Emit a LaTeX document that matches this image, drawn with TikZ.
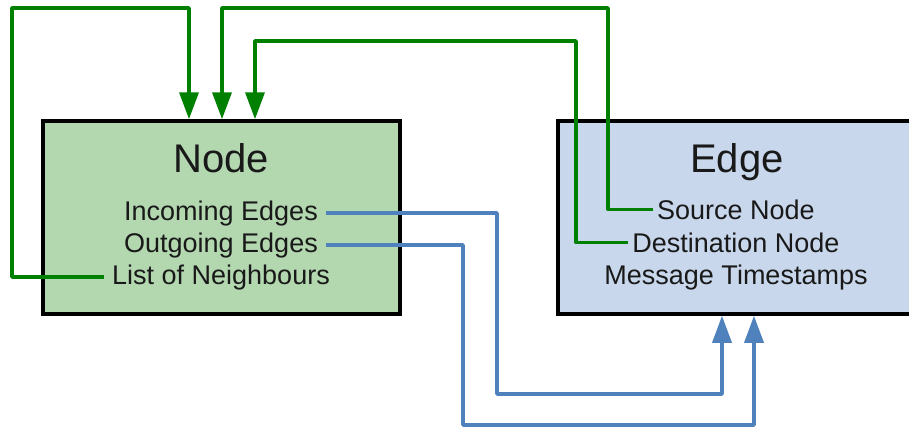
\documentclass[tikz,border=0pt]{standalone}
\usepackage{fontspec}
\setmainfont{Liberation Sans}
\usetikzlibrary{arrows.meta}
\definecolor{nodefill}{RGB}{179,216,176}
\definecolor{edgefill}{RGB}{200,215,235}
\definecolor{linkgreen}{RGB}{0,128,0}
\definecolor{linkblue}{RGB}{79,129,189}
\definecolor{txt}{RGB}{25,25,25}
\tikzset{
  classbox/.style={draw=black, line width=3.5pt, minimum width=357pt, minimum height=193pt, inner sep=0pt},
  title/.style={anchor=base, inner sep=0pt, font=\fontsize{40}{48}\selectfont, text=txt},
  field/.style={anchor=base, inner ysep=0pt, inner xsep=4pt, font=\fontsize{27}{32}\selectfont, text=txt},
  widefield/.style={field, inner xsep=8pt},
  greenlink/.style={draw=linkgreen, line width=3.5pt, line join=round, -{Triangle[length=27pt,width=19pt]}},
  bluelink/.style={draw=linkblue, line width=3.5pt, line join=round, -{Triangle[length=27pt,width=19pt]}},
}
\begin{document}
\begin{tikzpicture}[x=1pt, y=-1pt]
  \useasboundingbox (0,0) rectangle (909,428);
  \clip (0,0) rectangle (909,428);

  % class boxes
  \node[classbox, fill=nodefill] (nodebox) at (221.5,217.5) {};
  \node[classbox, fill=edgefill] (edgebox) at (736.5,217.5) {};

  % Node class
  \node[title] (nodetitle) at (221,172) {Node};
  \node[widefield] (inc)  at (221,220) {Incoming Edges};
  \node[widefield] (out)  at (221,252) {Outgoing Edges};
  \node[widefield] (list) at (221,284) {List of Neighbours};

  % Edge class
  \node[title] (edgetitle) at (737,172) {Edge};
  \node[field] (src) at (736,219) {Source Node};
  \node[field] (dst) at (736,252) {Destination Node};
  \node[field] (msg) at (736,284) {Message Timestamps};

  % arrow entry points on the boxes
  \path (nodebox.north) ++(-32.5,0) coordinate (nA);
  \path (nodebox.north) ++(0.5,0) coordinate (nB);
  \path (nodebox.north) ++(33.5,0) coordinate (nC);
  \path (edgebox.south) ++(-14.5,0) coordinate (eA);
  \path (edgebox.south) ++(17.5,0) coordinate (eB);

  % references back to nodes
  \draw[greenlink] (list.west) -| (12,8) -| (nA);
  \draw[greenlink] (src.west) -| (608,8) -| (nB);
  \draw[greenlink] (dst.west) -| (576,41) -| (nC);

  % references to edges
  \draw[bluelink] (inc.east) -| (497,394) -| (eA);
  \draw[bluelink] (out.east) -| (463,425) -| (eB);
\end{tikzpicture}
\end{document}
